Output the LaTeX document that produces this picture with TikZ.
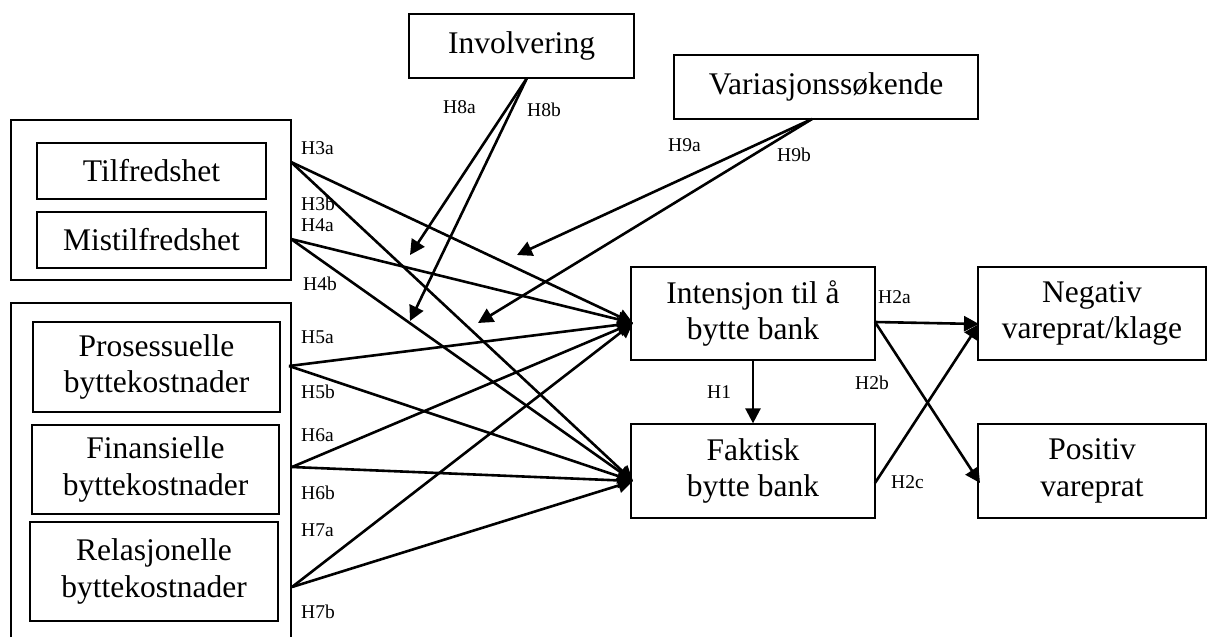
\documentclass[tikz,border=0pt]{standalone}
\usepackage{fontspec}
\setmainfont{Liberation Serif}
\usetikzlibrary{arrows.meta}
\begin{document}
\begin{tikzpicture}[x=1pt,y=-1pt,
  box/.style={draw,line width=1.3pt,inner sep=0pt,align=center,font=\fontsize{31.5}{36.5}\selectfont},
  outer/.style={draw,line width=2.4pt},
  lbl/.style={font=\fontsize{19.5}{22}\selectfont,anchor=west,inner sep=0pt},
  conn/.style={line width=2.6pt,-{Triangle[length=15pt,width=15pt]}}]
\useasboundingbox (0,0) rectangle (1214,637);
% group frames
\node[outer,minimum width=280pt,minimum height=160pt] (sat) at (151,200) {};
\coordinate (g2bl) at (11,637);
\coordinate (g2tl) at (11,303);
\coordinate (g2tr) at (291,303);
\coordinate (g2br) at (291,637);
\draw[outer] (g2bl) -- (g2tl) -- (g2tr) -- (g2br);
% boxes
\node[box,minimum width=229pt,minimum height=56pt] (til) at (151.5,171) {Tilfredshet};
\node[box,minimum width=229pt,minimum height=56pt] (mis) at (151.5,240) {Mistilfredshet};
\node[box,minimum width=247pt,minimum height=90pt] (pro) at (156.5,367) {Prosessuelle\\byttekostnader};
\node[box,minimum width=247pt,minimum height=89pt] (fin) at (155.5,469.5) {Finansielle\\byttekostnader};
\node[box,minimum width=248pt,minimum height=99pt] (rel) at (154,571.5) {Relasjonelle\\byttekostnader};
\node[box,minimum width=225pt,minimum height=64pt] (inv) at (521.5,46) {Involvering};
\node[box,minimum width=304pt,minimum height=64pt] (var) at (826,87) {Variasjonssøkende};
\node[box,minimum width=244pt,minimum height=93pt] (int) at (753,313.5) {Intensjon til å\\bytte bank};
\node[box,minimum width=244pt,minimum height=94pt] (fak) at (753,471) {Faktisk\\bytte bank};
\node[box,minimum width=228pt,minimum height=93pt] (neg) at (1092,313.5) {Negativ\\vareprat/klage};
\node[box,minimum width=228pt,minimum height=94pt] (pos) at (1092,471) {Positiv\\vareprat};
% connector ends
\coordinate (s3) at (291,162);
\coordinate (s4) at (291,239);
\coordinate (s5) at (289,366);
\coordinate (s6) at (292,467);
\coordinate (s7) at (292,587);
\coordinate (tI) at (633,323);
\coordinate (tF) at (633,481);
\coordinate (i0) at (527,78);
\coordinate (v0) at (812,119);
\coordinate (h8a) at (410,255);
\coordinate (h8b) at (410,321);
\coordinate (h9a) at (517,255);
\coordinate (h9b) at (478,323);
\coordinate (iR) at (875,322);
\coordinate (fR) at (875,483);
\coordinate (nL) at (979,324);
\coordinate (pL) at (980,483);
% connectors
\draw[conn] (s3) -- (tI);
\draw[conn] (s3) -- (tF);
\draw[conn] (s4) -- (tI);
\draw[conn] (s4) -- (tF);
\draw[conn] (s5) -- (tI);
\draw[conn] (s5) -- (tF);
\draw[conn] (s6) -- (tI);
\draw[conn] (s6) -- (tF);
\draw[conn] (s7) -- (tI);
\draw[conn] (s7) -- (tF);
\draw[conn] (i0) -- (h8a);
\draw[conn] (i0) -- (h8b);
\draw[conn] (v0) -- (h9a);
\draw[conn] (v0) -- (h9b);
\draw[conn] (int.south) -- (fak.north);
\draw[conn] (iR) -- (nL);
\draw[conn] (iR) -- (pL);
\draw[conn] (fR) -- (nL);
% labels
\node[lbl] (l3a) at (301,148) {H3a};
\node[lbl] (l3b) at (301,204) {H3b};
\node[lbl] (l4a) at (301,225) {H4a};
\node[lbl] (l4b) at (303,284) {H4b};
\node[lbl] (l5a) at (301,337) {H5a};
\node[lbl] (l5b) at (301,392) {H5b};
\node[lbl] (l6a) at (301,435) {H6a};
\node[lbl] (l6b) at (301,493) {H6b};
\node[lbl] (l7a) at (301,530) {H7a};
\node[lbl] (l7b) at (301,612) {H7b};
\node[lbl] (l8a) at (443,107) {H8a};
\node[lbl] (l8b) at (527,110) {H8b};
\node[lbl] (l9a) at (668,145) {H9a};
\node[lbl] (l9b) at (777,155) {H9b};
\node[lbl] (l1) at (707,392) {H1};
\node[lbl] (l2a) at (878,297) {H2a};
\node[lbl] (l2b) at (855,383) {H2b};
\node[lbl] (l2c) at (891,482) {H2c};
\end{tikzpicture}
\end{document}
